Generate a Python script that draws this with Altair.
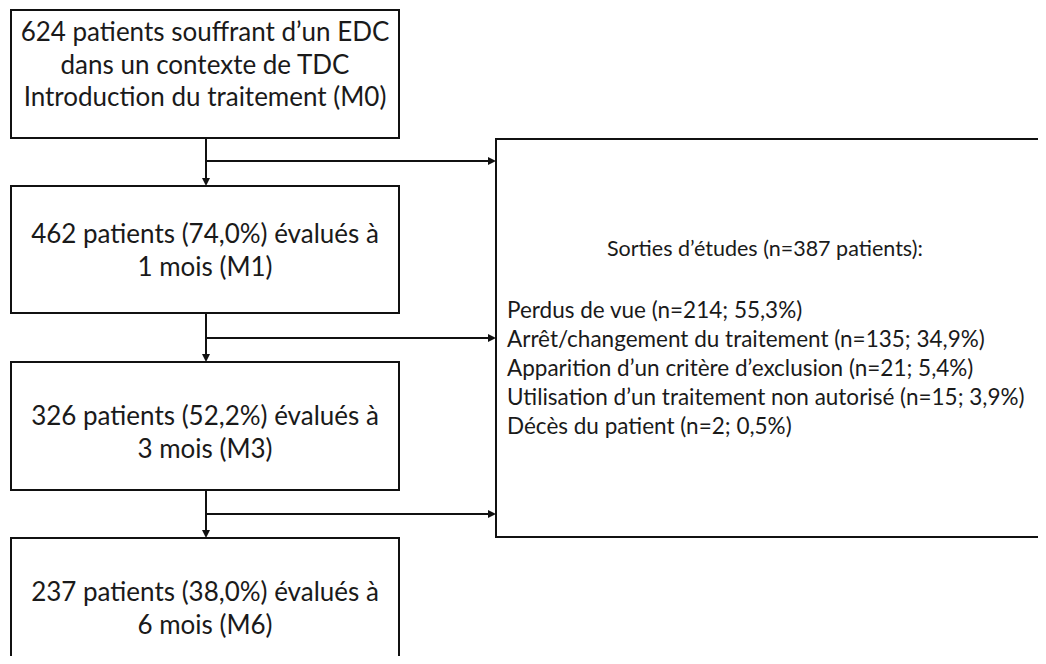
import altair as alt
import pandas as pd

# ---- content ----
box_texts = [
    ["624 patients souffrant d’un EDC", "dans un contexte de TDC", "Introduction du traitement (M0)"],
    ["462 patients (74,0%) évalués à", "1 mois (M1)"],
    ["326 patients (52,2%) évalués à", "3 mois (M3)"],
    ["237 patients (38,0%) évalués à", "6 mois (M6)"],
]
exit_title = "Sorties d’études (n=387 patients):"
exit_lines = [
    "Perdus de vue (n=214; 55,3%)",
    "Arrêt/changement du traitement (n=135; 34,9%)",
    "Apparition d’un critère d’exclusion (n=21; 5,4%)",
    "Utilisation d’un traitement non autorisé (n=15; 3,9%)",
    "Décès du patient (n=2; 0,5%)",
]

# ---- layout (pixel coordinates of the 1046x664 page) ----
box_x1, box_x2 = 11, 399
box_tops = [10, 186, 362, 538]
box_bottoms = [138, 313, 490, 670]
text_first_y = [33, 235, 417, 593]
line_gap = 32.5
right_box = dict(x1=496, x2=1060, y1=139, y2=537)
title_x, title_y = 607, 250
list_x = 507
list_y0 = 311
list_gap = 29
arrow_x = 206
branch_y = [161, 338, 514]

FONT = "Lato"
INK = "#1a1a1a"

rects = [dict(x1=box_x1, x2=box_x2, y1=t, y2=b) for t, b in zip(box_tops, box_bottoms)]
rects.append(right_box)
rect_df = pd.DataFrame(rects)

rows = []
for i, lines in enumerate(box_texts):
    for j, s in enumerate(lines):
        rows.append(dict(x=(box_x1 + box_x2) / 2, y=text_first_y[i] + j * line_gap, t=s))
box_text_df = pd.DataFrame(rows)

list_df = pd.DataFrame([dict(x=list_x, y=list_y0 + k * list_gap, t=s) for k, s in enumerate(exit_lines)])
title_df = pd.DataFrame([dict(x=title_x, y=title_y, t=exit_title)])

seg = []
for i in range(3):
    seg.append(dict(x1=arrow_x, x2=arrow_x, y1=box_bottoms[i], y2=box_tops[i + 1] - 2))
    seg.append(dict(x1=arrow_x, x2=right_box["x1"] - 2, y1=branch_y[i], y2=branch_y[i]))
seg_df = pd.DataFrame(seg)

down_df = pd.DataFrame([dict(x=arrow_x, y=box_tops[i + 1]) for i in range(3)])
right_df = pd.DataFrame([dict(x=right_box["x1"], y=branch_y[i]) for i in range(3)])

xs = alt.Scale(domain=[8, 1038], nice=False, zero=False)
ys = alt.Scale(domain=[8, 656], nice=False, zero=False, reverse=True)
X = lambda f: alt.X(f, type="quantitative", scale=xs, axis=None)
Y = lambda f: alt.Y(f, type="quantitative", scale=ys, axis=None)

rect_layer = alt.Chart(rect_df).mark_rect(fillOpacity=0, stroke="#111111", strokeWidth=2).encode(
    x=X("x1"), x2="x2", y=Y("y1"), y2="y2"
)
seg_layer = alt.Chart(seg_df).mark_rule(color="#111111", strokeWidth=2).encode(
    x=X("x1"), x2="x2", y=Y("y1"), y2="y2"
)
down_layer = alt.Chart(down_df).mark_point(
    shape="M0,0L-1,-2L1,-2Z", filled=True, color="#111111", opacity=1, size=64
).encode(x=X("x"), y=Y("y"))
right_layer = alt.Chart(right_df).mark_point(
    shape="M0,0L-2,-1L-2,1Z", filled=True, color="#111111", opacity=1, size=64
).encode(x=X("x"), y=Y("y"))

box_text_layer = alt.Chart(box_text_df).mark_text(
    font=FONT, fontSize=26, color=INK, align="center", baseline="middle"
).encode(x=X("x"), y=Y("y"), text="t:N")
title_layer = alt.Chart(title_df).mark_text(
    font=FONT, fontSize=21.5, color=INK, align="left", baseline="middle"
).encode(x=X("x"), y=Y("y"), text="t:N")
list_layer = alt.Chart(list_df).mark_text(
    font=FONT, fontSize=22.5, color=INK, align="left", baseline="middle"
).encode(x=X("x"), y=Y("y"), text="t:N")

chart = alt.layer(
    rect_layer, seg_layer, down_layer, right_layer, box_text_layer, title_layer, list_layer
).properties(
    width=1030, height=648, padding=0, autosize=alt.AutoSizeParams(type="none")
).configure_view(stroke=None)

chart.save("out.html", embed_options={"renderer": "svg", "actions": False})
